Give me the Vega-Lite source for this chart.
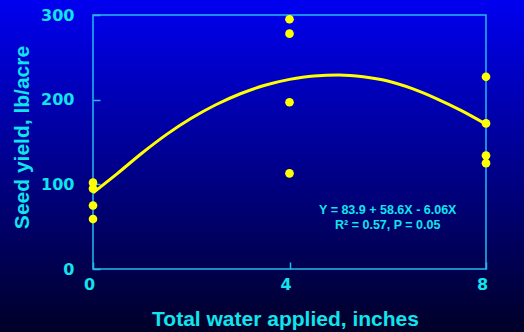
{
  "$schema": "https://vega.github.io/schema/vega-lite/v6.json",
  "width": 524,
  "height": 332,
  "autosize": {"type": "none"},
  "padding": 0,
  "background": "#00008c",
  "config": {
    "view": {
      "stroke": null,
      "fill": {"gradient": "linear", "x1": 0, "y1": 0, "x2": 0, "y2": 1,
        "stops": [{"offset": 0, "color": "#0000f0"}, {"offset": 1, "color": "#000028"}]}
    },
    "axis": {
      "grid": false,
      "domain": false,
      "tickColor": "#22bbee",
      "tickWidth": 1.5,
      "tickSize": -7,
      "labelFont": "DejaVu Sans",
      "labelFontWeight": "bold",
      "labelFontSize": 16,
      "labelColor": "#10e4ec",
      "titleFont": "Liberation Sans",
      "titleFontWeight": "bold",
      "titleFontSize": 21,
      "titleColor": "#10e4ec"
    }
  },
  "layer": [
    {
      "data": {"values": [{"label": "box"}]},
      "mark": {"type": "rect", "fill": null, "stroke": "#22bbee", "strokeWidth": 1.5},
      "encoding": {
        "x": {"datum": 0, "type": "quantitative", "scale": {"domain": [-1.8931, 8.7735], "nice": false, "zero": false},
          "axis": {"orient": "bottom", "offset": -63, "values": [0, 4, 8], "title": "Total water applied, inches",
            "labelPadding": 14, "labelOffset": -4, "titleX": 285, "titleY": 56, "titleAlign": "center", "titleBaseline": "alphabetic"}},
        "x2": {"datum": 8},
        "y": {"datum": 0, "type": "quantitative", "scale": {"domain": [-74.41, 317.72], "nice": false, "zero": false},
          "axis": {"orient": "left", "offset": -93, "values": [0, 100, 200, 300], "title": "Seed yield, lb/acre",
            "labelPadding": 26, "titleX": -65, "titleY": 137, "titleAngle": -90, "titleAlign": "center", "titleBaseline": "alphabetic"}},
        "y2": {"datum": 300}
      }
    },
    {
      "data": {"values": [
        {"water": 0, "fit": 90}, {"water": 0.5, "fit": 113}, {"water": 1, "fit": 137},
        {"water": 1.5, "fit": 159}, {"water": 2, "fit": 178}, {"water": 2.5, "fit": 194},
        {"water": 3, "fit": 207}, {"water": 3.5, "fit": 217}, {"water": 4, "fit": 224},
        {"water": 4.5, "fit": 228}, {"water": 5, "fit": 229}, {"water": 5.5, "fit": 227},
        {"water": 6, "fit": 222}, {"water": 6.5, "fit": 213}, {"water": 7, "fit": 201},
        {"water": 7.5, "fit": 187}, {"water": 8, "fit": 171}
      ]},
      "mark": {"type": "line", "color": "#ffff00", "strokeWidth": 3, "interpolate": "monotone"},
      "encoding": {
        "x": {"field": "water", "type": "quantitative"},
        "y": {"field": "fit", "type": "quantitative"}
      }
    },
    {
      "data": {"values": [
        {"water": 0, "yield": 102}, {"water": 0, "yield": 95}, {"water": 0, "yield": 75}, {"water": 0, "yield": 59},
        {"water": 4, "yield": 295}, {"water": 4, "yield": 278}, {"water": 4, "yield": 197}, {"water": 4, "yield": 113},
        {"water": 8, "yield": 227}, {"water": 8, "yield": 172}, {"water": 8, "yield": 134}, {"water": 8, "yield": 125}
      ]},
      "mark": {"type": "circle", "color": "#ffff00", "opacity": 1, "size": 75},
      "encoding": {
        "x": {"field": "water", "type": "quantitative"},
        "y": {"field": "yield", "type": "quantitative"}
      }
    },
    {
      "data": {"values": [{"label": "equation"}]},
      "mark": {"type": "text", "font": "Liberation Sans", "fontWeight": "bold", "fontSize": 12.5, "color": "#10e4ec",
        "align": "center", "baseline": "alphabetic", "lineHeight": 14.5},
      "encoding": {
        "x": {"datum": 6},
        "y": {"datum": 64.6},
        "text": {"value": ["Y = 83.9 + 58.6X - 6.06X", "R² = 0.57,  P = 0.05"]}
      }
    }
  ]
}
